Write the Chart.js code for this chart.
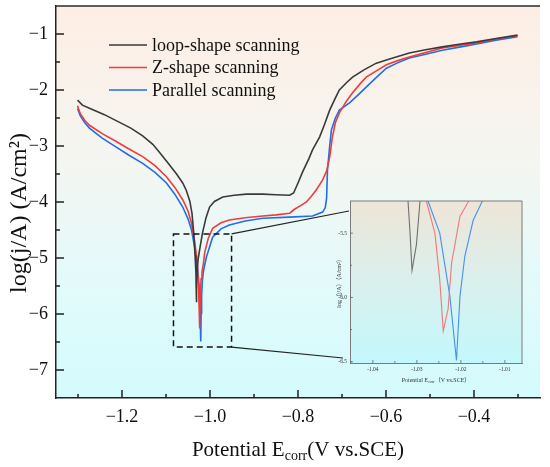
<!DOCTYPE html>
<html>
<head>
<meta charset="utf-8">
<script src="https://cdn.jsdelivr.net/npm/chart.js@4.4.1/dist/chart.umd.min.js"></script>
<style>
  body { margin: 0; background: #fff; }
  #wrap { position: relative; width: 550px; height: 467px; }
  #inset { position: absolute; left: 330px; top: 190px; width: 200px; height: 200px; }
</style>
</head>
<body>
<div id="wrap">
  <canvas id="tafel"></canvas>
  <div id="inset"><canvas id="tafelZoom"></canvas></div>
</div>
<script>
// potential (V vs. SCE) and log current density
const potLoop = [-1.301, -1.290, -1.270, -1.240, -1.210, -1.180, -1.153, -1.130, -1.115, -1.095,
  -1.076, -1.062, -1.054, -1.046, -1.041, -1.037, -1.034, -1.032, -1.0316, -1.0311,
  -1.0301, -1.0293, -1.027, -1.022, -1.017, -1.009, -1.001, -0.990, -0.971, -0.945,
  -0.917, -0.880, -0.850, -0.819, -0.810, -0.800, -0.790, -0.775, -0.767, -0.751,
  -0.740, -0.728, -0.716, -0.706, -0.690, -0.676, -0.650, -0.622, -0.590, -0.547,
  -0.510, -0.472, -0.430, -0.394, -0.350, -0.301];
const logjLoop = [-2.18, -2.27, -2.34, -2.44, -2.56, -2.68, -2.82, -2.97, -3.11, -3.31,
  -3.50, -3.66, -3.79, -3.98, -4.20, -4.55, -4.95, -5.256, -5.47, -5.79,
  -5.59, -5.256, -5.02, -4.78, -4.55, -4.28, -4.09, -3.99, -3.91, -3.88,
  -3.86, -3.86, -3.87, -3.88, -3.84, -3.66, -3.47, -3.22, -3.07, -2.84,
  -2.62, -2.36, -2.16, -2.00, -1.87, -1.77, -1.64, -1.52, -1.44, -1.34,
  -1.28, -1.23, -1.18, -1.14, -1.08, -1.02];

const potZ = [-1.301, -1.295, -1.285, -1.274, -1.245, -1.213, -1.185, -1.153, -1.125, -1.099,
  -1.080, -1.062, -1.050, -1.042, -1.035, -1.030, -1.0278, -1.0259, -1.0248, -1.0240,
  -1.0229, -1.0221, -1.0202, -1.0183, -1.015, -1.012, -1.004, -0.994, -0.975, -0.956,
  -0.920, -0.880, -0.850, -0.819, -0.808, -0.795, -0.781, -0.770, -0.759, -0.745,
  -0.735, -0.728, -0.722, -0.715, -0.706, -0.690, -0.676, -0.660, -0.645, -0.620,
  -0.599, -0.575, -0.547, -0.510, -0.472, -0.430, -0.394, -0.350, -0.301];
const logjZ = [-2.28, -2.42, -2.54, -2.63, -2.78, -2.92, -3.05, -3.19, -3.35, -3.55,
  -3.74, -3.96, -4.16, -4.38, -4.70, -5.00, -5.256, -5.50, -5.86, -6.26,
  -6.09, -5.73, -5.37, -5.256, -5.10, -4.90, -4.65, -4.47, -4.37, -4.32,
  -4.28, -4.25, -4.23, -4.20, -4.13, -4.07, -4.00, -3.90, -3.79, -3.62,
  -3.45, -3.20, -2.85, -2.58, -2.41, -2.20, -2.05, -1.90, -1.77, -1.65,
  -1.55, -1.48, -1.41, -1.33, -1.25, -1.20, -1.16, -1.09, -1.03];

const potPar = [-1.301, -1.295, -1.285, -1.274, -1.245, -1.213, -1.185, -1.153, -1.125, -1.099,
  -1.080, -1.062, -1.050, -1.042, -1.035, -1.030, -1.0274, -1.0248, -1.0225, -1.0210,
  -1.0202, -1.0191, -1.0172, -1.0152, -1.012, -1.008, -0.994, -0.975, -0.956, -0.920,
  -0.880, -0.820, -0.767, -0.744, -0.738, -0.735, -0.733, -0.728, -0.724, -0.715,
  -0.706, -0.683, -0.665, -0.645, -0.620, -0.599, -0.575, -0.547, -0.510, -0.472,
  -0.430, -0.394, -0.350, -0.301];
const logjPar = [-2.33, -2.46, -2.58, -2.68, -2.86, -3.02, -3.16, -3.31, -3.47, -3.66,
  -3.86, -4.09, -4.30, -4.50, -4.80, -5.08, -5.256, -5.50, -5.99, -6.49,
  -5.99, -5.68, -5.40, -5.256, -5.12, -4.98, -4.63, -4.48, -4.41, -4.34,
  -4.29, -4.27, -4.25, -4.18, -4.10, -3.93, -3.43, -3.00, -2.71, -2.50,
  -2.36, -2.23, -2.10, -1.95, -1.76, -1.61, -1.52, -1.43, -1.36, -1.29,
  -1.23, -1.18, -1.11, -1.05];

const seriesNames = ['loop-shape scanning', 'Z-shape scanning', 'Parallel scanning'];
const xTicks = [-1.2, -1.0, -0.8, -0.6, -0.4];
const yTicks = [-7, -6, -5, -4, -3, -2, -1];
const insetXTicks = [-1.04, -1.03, -1.02, -1.01];
const insetYTicks = [-6.5, -6.0, -5.5];
// dashed window on the main plot: E from, E to, log j from, log j to
const zoomBox = [-1.083, -0.951, -6.59, -4.57];

const serif = '"Liberation Serif", "Times New Roman", "Noto Sans CJK SC", serif';
const mainColors = ['#3a3a3a', '#f03c3c', '#1f6fe8'];
const insetColors = ['#707070', '#f07878', '#4a8ef0'];
const insetPos = { left: 330, top: 190 };

function lineSet(label, xs, ys, color, width) {
  return {
    label: label,
    data: xs.map((x, i) => ({ x: x, y: ys[i] })),
    borderColor: color,
    borderWidth: width,
    pointRadius: 0,
    showLine: true,
    tension: 0,
    fill: false
  };
}

function fmt(v, d) {
  return (v < 0 ? '\u2212' : '') + Math.abs(v).toFixed(d);
}

// chart area edges are set by afterFit, so drop the label overhang padding
function noPad(s) {
  s.paddingTop = 0; s.paddingBottom = 0; s.paddingLeft = 0; s.paddingRight = 0;
}

// ticks pointing into the plot, majors plus minors halfway between
function drawInwardTicks(chart, major, minor, color, width) {
  const ctx = chart.ctx;
  const a = chart.chartArea;
  const sx = chart.scales.x, sy = chart.scales.y;
  ctx.save();
  ctx.strokeStyle = color;
  ctx.lineWidth = width;
  ctx.beginPath();
  const xt = sx.ticks.map(t => t.value);
  const yt = sy.ticks.map(t => t.value);
  xt.forEach(v => {
    const p = sx.getPixelForValue(v);
    ctx.moveTo(p, a.bottom); ctx.lineTo(p, a.bottom - major);
  });
  const xs = xt[1] - xt[0];
  for (let v = xt[0] - xs / 2; v < sx.max; v += xs) {
    if (v <= sx.min) continue;
    const p = sx.getPixelForValue(v);
    ctx.moveTo(p, a.bottom); ctx.lineTo(p, a.bottom - minor);
  }
  yt.forEach(v => {
    const p = sy.getPixelForValue(v);
    ctx.moveTo(a.left, p); ctx.lineTo(a.left + major, p);
  });
  const ys = Math.abs(yt[1] - yt[0]);
  const y0 = Math.min(...yt);
  for (let v = y0 - ys / 2; v < sy.max; v += ys) {
    if (v <= sy.min + 1e-6 || v >= sy.max - 1e-6) continue;
    const p = sy.getPixelForValue(v);
    ctx.moveTo(a.left, p); ctx.lineTo(a.left + minor, p);
  }
  ctx.stroke();
  ctx.restore();
}

// text with a subscript part, centred on cx
function drawSubText(ctx, cx, cy, parts, size, subSize, drop, color) {
  ctx.save();
  ctx.fillStyle = color;
  ctx.textBaseline = 'middle';
  ctx.textAlign = 'left';
  let total = 0;
  parts.forEach(p => {
    ctx.font = (p[1] ? subSize : size) + 'px ' + serif;
    total += ctx.measureText(p[0]).width;
  });
  let x = cx - total / 2;
  parts.forEach(p => {
    ctx.font = (p[1] ? subSize : size) + 'px ' + serif;
    ctx.fillText(p[0], x, p[1] ? cy + drop : cy);
    x += ctx.measureText(p[0]).width;
  });
  ctx.restore();
}

function fillGradient(chart, stops) {
  const ctx = chart.ctx, a = chart.chartArea;
  const g = ctx.createLinearGradient(0, a.top, 0, a.bottom);
  stops.forEach(s => g.addColorStop(s[0], s[1]));
  ctx.save();
  ctx.fillStyle = g;
  ctx.fillRect(a.left, a.top, a.right - a.left, a.bottom - a.top);
  ctx.restore();
}

const mainDecor = {
  id: 'mainDecor',
  beforeDraw(chart) {
    fillGradient(chart, [[0, '#fdeee4'], [0.4, '#f4f6f1'], [0.7, '#e3fafa'], [1, '#d3fbfd']]);
  },
  afterDraw(chart) {
    const ctx = chart.ctx, a = chart.chartArea;
    const sx = chart.scales.x, sy = chart.scales.y;

    // top frame line
    ctx.save();
    ctx.strokeStyle = '#2a2a2a';
    ctx.lineWidth = 1.5;
    ctx.beginPath();
    ctx.moveTo(a.left, a.top); ctx.lineTo(a.right, a.top);
    ctx.stroke();
    ctx.restore();

    drawInwardTicks(chart, 8, 4, '#222', 1.5);

    // dashed zoom window and the two leader lines to the inset
    const bx0 = sx.getPixelForValue(zoomBox[0]), bx1 = sx.getPixelForValue(zoomBox[1]);
    const by0 = sy.getPixelForValue(zoomBox[2]), by1 = sy.getPixelForValue(zoomBox[3]);
    ctx.save();
    ctx.strokeStyle = '#111';
    ctx.lineWidth = 1.5;
    ctx.setLineDash([6, 4]);
    ctx.strokeRect(bx0, by1, bx1 - bx0, by0 - by1);
    ctx.setLineDash([]);
    ctx.lineWidth = 1.2;
    ctx.strokeStyle = '#222';
    ctx.beginPath();
    ctx.moveTo(bx1, by1); ctx.lineTo(insetPos.left + 19, insetPos.top + 21);
    ctx.moveTo(bx1, by0); ctx.lineTo(insetPos.left + 13, insetPos.top + 168);
    ctx.stroke();
    ctx.restore();

    // legend
    ctx.save();
    ctx.font = '18px ' + serif;
    ctx.textBaseline = 'middle';
    ctx.fillStyle = '#111';
    chart.data.datasets.forEach((ds, i) => {
      const y = a.top + 39 + i * 22.5;
      ctx.strokeStyle = ds.borderColor;
      ctx.lineWidth = 1.6;
      ctx.beginPath();
      ctx.moveTo(a.left + 53, y); ctx.lineTo(a.left + 91, y);
      ctx.stroke();
      ctx.fillText(ds.label, a.left + 96, y + 1);
    });
    ctx.restore();

    // axis titles
    drawSubText(ctx, (a.left + a.right) / 2, 450,
      [['Potential E', false], ['corr', true], ['(V vs.SCE)', false]], 21, 14, 6, '#111');
    ctx.save();
    ctx.translate(20, 213);
    ctx.rotate(-Math.PI / 2);
    ctx.font = '24px ' + serif;
    ctx.fillStyle = '#111';
    ctx.textAlign = 'center';
    ctx.textBaseline = 'middle';
    ctx.fillText('log(j/A) (A/cm\u00b2)', 0, 0);
    ctx.restore();
  }
};

const insetDecor = {
  id: 'insetDecor',
  beforeDraw(chart) {
    fillGradient(chart, [[0, '#eee5d8'], [0.45, '#dcefea'], [1, '#c3f8fc']]);
  },
  afterDraw(chart) {
    const ctx = chart.ctx, a = chart.chartArea;
    ctx.save();
    ctx.strokeStyle = '#7a7a7a';
    ctx.lineWidth = 1;
    ctx.beginPath();
    ctx.moveTo(a.left, a.top); ctx.lineTo(a.right, a.top); ctx.lineTo(a.right, a.bottom);
    ctx.stroke();
    ctx.restore();
    drawInwardTicks(chart, 3, 2, '#666', 0.8);
    drawSubText(ctx, (a.left + a.right) / 2, 190,
      [['Potential E', false], ['corr', true], ['\uff08V vs.SCE\uff09', false]], 6, 4, 1.5, '#333');
    ctx.save();
    ctx.translate(9, (a.top + a.bottom) / 2);
    ctx.rotate(-Math.PI / 2);
    ctx.font = '6px ' + serif;
    ctx.fillStyle = '#333';
    ctx.textAlign = 'center';
    ctx.textBaseline = 'middle';
    ctx.fillText('log\uff08j/A\uff09\uff08A/cm\u00b2\uff09', 0, 0);
    ctx.restore();
  }
};

const allPot = [potLoop, potZ, potPar];
const allLogj = [logjLoop, logjZ, logjPar];

new Chart(document.getElementById('tafel'), {
  type: 'scatter',
  data: {
    datasets: seriesNames.map((n, i) => lineSet(n, allPot[i], allLogj[i], mainColors[i], 1.6))
  },
  options: {
    responsive: true,
    maintainAspectRatio: false,
    animation: false,
    layout: { padding: { top: 6, right: 10, left: 0, bottom: 0 } },
    plugins: { legend: { display: false }, tooltip: { enabled: false } },
    scales: {
      x: {
        type: 'linear', min: -1.35, max: -0.25,
        afterBuildTicks: s => { s.ticks = xTicks.map(v => ({ value: v })); },
        afterFit: s => { s.height = 69; noPad(s); },
        grid: { display: false, drawTicks: false },
        border: { display: true, color: '#222', width: 1.5 },
        ticks: {
          padding: 8, color: '#111', maxRotation: 0, autoSkip: false,
          font: { family: serif, size: 18 },
          callback: v => fmt(v, 1)
        }
      },
      y: {
        type: 'linear', min: -7.5, max: -0.5,
        afterBuildTicks: s => { s.ticks = yTicks.map(v => ({ value: v })); },
        afterFit: s => { s.width = 56; noPad(s); },
        grid: { display: false, drawTicks: false },
        border: { display: true, color: '#222', width: 1.5 },
        ticks: {
          padding: 8, color: '#111', autoSkip: false,
          font: { family: serif, size: 18 },
          callback: v => fmt(v, 0)
        }
      }
    }
  },
  plugins: [mainDecor]
});

new Chart(document.getElementById('tafelZoom'), {
  type: 'scatter',
  data: {
    datasets: seriesNames.map((n, i) => lineSet(n, allPot[i], allLogj[i], insetColors[i], 1.1))
  },
  options: {
    responsive: true,
    maintainAspectRatio: false,
    animation: false,
    layout: { padding: { top: 11, right: 8, left: 0, bottom: 0 } },
    plugins: { legend: { display: false }, tooltip: { enabled: false } },
    scales: {
      x: {
        type: 'linear', min: -1.0452, max: -1.0061,
        afterBuildTicks: s => { s.ticks = insetXTicks.map(v => ({ value: v })); },
        afterFit: s => { s.height = 27; noPad(s); },
        grid: { display: false, drawTicks: false },
        border: { display: true, color: '#7a7a7a', width: 1 },
        ticks: {
          padding: 3, color: '#333', maxRotation: 0, autoSkip: false,
          font: { family: serif, size: 5.5 },
          callback: v => v.toFixed(2)
        }
      },
      y: {
        type: 'linear', min: -6.51, max: -5.25,
        afterBuildTicks: s => { s.ticks = insetYTicks.map(v => ({ value: v })); },
        afterFit: s => { s.width = 20; noPad(s); },
        grid: { display: false, drawTicks: false },
        border: { display: true, color: '#7a7a7a', width: 1 },
        ticks: {
          padding: 3, color: '#333', autoSkip: false,
          font: { family: serif, size: 5.5 },
          callback: v => v.toFixed(1)
        }
      }
    }
  },
  plugins: [insetDecor]
});
</script>
</body>
</html>
